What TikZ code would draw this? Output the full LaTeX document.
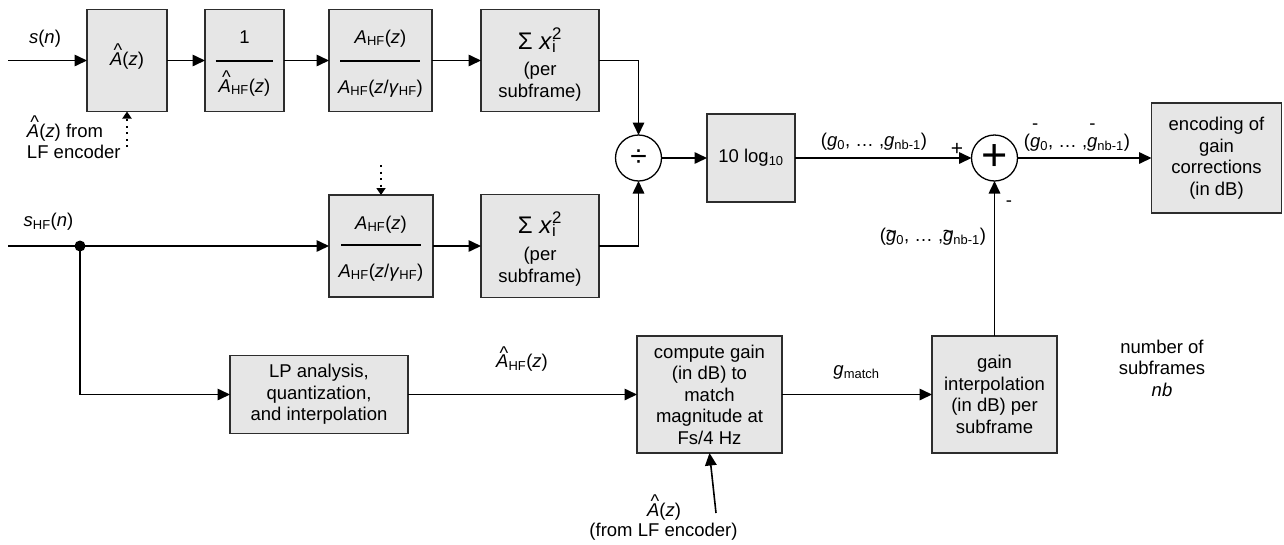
\documentclass[tikz,border=0pt]{standalone}
\usepackage{fontspec}
\setmainfont{Liberation Sans}
\usetikzlibrary{arrows.meta}
\definecolor{boxfill}{RGB}{230,230,230}
\definecolor{boxline}{RGB}{45,45,45}
\newcommand\hatA{\ooalign{\textit{A}\cr\hidewidth\kern0.18em\raisebox{0.46em}{\textasciicircum}\hidewidth\cr}}
\newcommand\barg{\ooalign{\textit{g}\cr\hidewidth\raisebox{0.97em}{-}\hidewidth\cr}}
\newcommand\tilg{\ooalign{\textit{g}\cr\hidewidth\raisebox{0.2em}{\textasciitilde}\hidewidth\cr}}
\newcommand\AHF{\textit{A}\textsubscript{HF}}
\begin{document}
\begin{tikzpicture}[x=1pt,y=-1pt,
  every node/.style={font=\fontsize{18.5}{21.5}\selectfont, inner sep=0pt, outer sep=0pt},
  blk/.style={draw=boxline, fill=boxfill, line width=1.3pt, align=center},
  sumc/.style={circle, draw=black, fill=white, line width=1.3pt, minimum size=46pt},
  arr/.style={line width=1.6pt, -{Triangle[length=12.5pt,width=11.5pt]}},
  dotarr/.style={line width=2pt, dash pattern=on 2pt off 4.5pt, -{Triangle[length=7pt,width=9pt]}},
  frl/.style={line width=1.3pt}]
\useasboundingbox (0,0) rectangle (1284,544);

% ---- top row boxes
\node[blk, minimum width=80pt, minimum height=102pt] (b1) at (127,60.5) {\hatA(\textit{z})};
\node[blk, minimum width=79pt, minimum height=102pt] (b2) at (244.5,60.5) {};
\node[blk, minimum width=103pt, minimum height=102pt] (b3) at (380.5,60.5) {};
\node[blk, minimum width=118pt, minimum height=102pt] (s1) at (540,60.5) {};
% ---- second row
\node[blk, minimum width=104pt, minimum height=102pt] (b5) at (381,246) {};
\node[blk, minimum width=118pt, minimum height=103pt] (s2) at (540,246) {};
% ---- middle
\node[sumc, font=\fontsize{30}{30}\selectfont] (div) at (638.5,158) {÷};
\node[blk, minimum width=88pt, minimum height=88pt] (lgb) at (751,158) {10 log\textsubscript{10}};
\node[sumc, font=\fontsize{45}{45}\selectfont] (pl) at (994.5,158) {\raisebox{-0.057em}{+}};
\node[blk, minimum width=130pt, minimum height=110pt] (enc) at (1216.5,158) {encoding of\\gain\\corrections\\(in dB)};
% ---- bottom row
\node[blk, minimum width=178pt, minimum height=78pt] (lp) at (319,394.5) {LP analysis,\\quantization,\\and interpolation};
\node[blk, minimum width=145pt, minimum height=117pt] (cg) at (709.5,394.5) {compute gain\\(in dB) to\\match\\magnitude at\\Fs/4 Hz};
\node[blk, minimum width=125pt, minimum height=117pt] (gi) at (994.5,394.5) {gain\\interpolation\\(in dB) per\\subframe};

% ---- fraction contents
\node[anchor=base] (n2) at (244.5,43) {1};
\draw[frl] (215.5,61) -- (272.5,61);
\node[anchor=base] (d2t) at (244.5,92) {\hatA\textsubscript{HF}(\textit{z})};
\node[anchor=base] (n3) at (380.5,43) {\AHF(\textit{z})};
\draw[frl] (340,61) -- (420,61);
\node[anchor=base] (d3) at (380.5,93) {\AHF(\textit{z}/\textit{γ}\textsubscript{HF})};
\node[anchor=base] (n5) at (381,229) {\AHF(\textit{z})};
\draw[frl] (341,245) -- (421,245);
\node[anchor=base] (d5) at (381,277) {\AHF(\textit{z}/\textit{γ}\textsubscript{HF})};
% ---- sum of squares contents
\node[anchor=base] (e1) at (540,49) {\fontsize{24}{24}\selectfont Σ \textit{x}\rlap{\textsubscript{i}}\textsuperscript{2}};
\node[align=center] (f1) at (540,81.5) {(per\\subframe)};
\node[anchor=base] (e2) at (540,233) {\fontsize{24}{24}\selectfont Σ \textit{x}\rlap{\textsubscript{i}}\textsuperscript{2}};
\node[align=center] (f2) at (540,266.5) {(per\\subframe)};

% ---- labels
\node (lsn) at (45,38.5) {\textit{s}(\textit{n})};
\node[align=left, anchor=west] (llf) at (27,141.5) {\hatA(\textit{z}) from\\LF encoder};
\node (lshf) at (48.5,222) {\textit{s}\textsubscript{HF}(\textit{n})};
\node (lahf) at (522,363) {\hatA\textsubscript{HF}(\textit{z})};
\node (lgm) at (856.5,372) {\textit{g}\textsubscript{match}};
\node[anchor=base] (lgv) at (874,146) {(\textit{g}\textsubscript{0}, … ,\textit{g}\textsubscript{nb-1})};
\node[font=\fontsize{21}{21}\selectfont] (lplus) at (957,149) {+};
\node[anchor=base] (lbar) at (1077,147) {(\barg\textsubscript{0}, … ,\barg\textsubscript{nb-1})};
\node[anchor=base] (ltil) at (933,241) {(\tilg\textsubscript{0}, … ,\tilg\textsubscript{nb-1})};
\node (lminus) at (1009,204) {-};
\node[anchor=base] (lbot1) at (664,516) {\hatA(\textit{z})};
\node[anchor=base] (lbot2) at (663.5,536) {(from LF encoder)};
\node[align=center] (lnb) at (1162,368) {number of\\subframes\\\textit{nb}};

% ---- connectors
\coordinate (snin) at (8,60.5);
\draw[arr] (snin) -- (b1.west);
\draw[arr] (b1) -- (b2);
\draw[arr] (b2) -- (b3);
\draw[arr] (b3) -- (s1);
\draw[arr] (s1.east) -| (div.north);
\coordinate (shfin) at (8,246);
\draw[arr] (shfin) -- (b5.west);
\draw[arr] (b5) -- (s2);
\draw[arr] (s2.east) -| (div.south);
\draw[arr] (div) -- (lgb);
\draw[arr] (lgb) -- (pl);
\draw[arr] (pl) -- (enc);
\node[circle, fill=black, minimum size=11pt] (j) at (80,246) {};
\draw[arr] (j.center) |- (lp.west);
\draw[arr] (lp) -- (cg);
\draw[arr] (cg) -- (gi);
\draw[arr] (gi) -- (pl);
\coordinate (lfin) at (716,513);
\draw[arr] (lfin) -- (cg.south);
\coordinate (dt1) at (127,147);
\draw[dotarr] (dt1) -- (b1.south);
\coordinate (dt2) at (381,165);
\draw[dotarr] (dt2) -- (b5.north);
\end{tikzpicture}
\end{document}
